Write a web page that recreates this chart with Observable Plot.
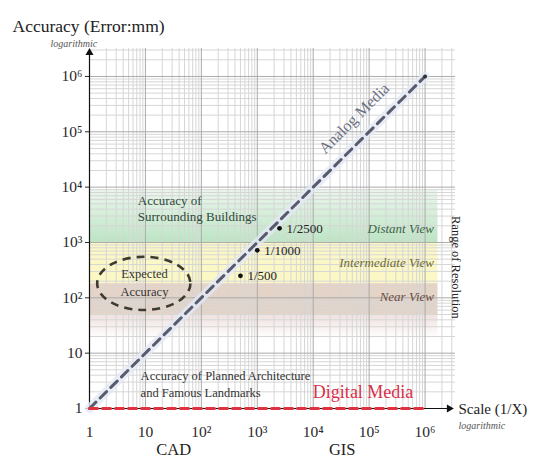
<!DOCTYPE html>
<html><head><meta charset="utf-8">
<script src="https://cdn.jsdelivr.net/npm/d3@7"></script>
<script src="https://cdn.jsdelivr.net/npm/@observablehq/plot@0.6"></script>
<style>body{margin:0;background:#fff}</style>
</head><body><div id="chart"></div>
<script>
// ---- data ----
const tickValues = [1, 10, 100, 1e3, 1e4, 1e5, 1e6];
const tickLabels = ["1", "10", "10²", "10³", "10⁴", "10⁵", "10⁶"];
const analogScale = [1, 1e6];
const analogAccuracy = [1, 1e6];
const digitalScale = [1, 1e6];
const digitalAccuracy = [1, 1];
const pointScale = [500, 1000, 2500];
const pointAccuracy = [250, 720, 1800];
const pointLabels = ["1/500", "1/1000", "1/2500"];
const bandNames = ["Distant View", "Intermediate View", "Near View"];
const bandLow = [1000, 180, 50];
const bandHigh = [8700, 1000, 180];
const bandFill = ["url(#gGreen)", "#fbf8c6", "#e4d3c7"];
const bandText = ["#3f6248", "#6d6a3a", "#6a4d44"];
const bandLabelY = [1800, 437, 106];
const bandEnd = 1.7e6;
const fadeLow = 18;
const ellipseX = [1.4, 65];
const ellipseY = [59, 540];
const xMax = 3.5e6, yMax = 3.2e6, arrowEnd = 2.7e6;

const bands = bandNames.map((name, i) => ({name, lo: bandLow[i], hi: bandHigh[i], fill: bandFill[i], color: bandText[i], ly: bandLabelY[i]}));
const points = pointScale.map((x, i) => ({x, y: pointAccuracy[i], label: pointLabels[i]}));
const gridTicksX = d3.scaleLog().domain([1, xMax]).ticks();
const gridTicksY = d3.scaleLog().domain([1, yMax]).ticks();
const minorX = gridTicksX.filter(v => !tickValues.includes(v));
const minorY = gridTicksY.filter(v => !tickValues.includes(v));

const serif = "'Liberation Serif', 'DejaVu Serif', serif";

function defs() {
  const d = d3.create("svg:defs");
  const g = d.append("linearGradient").attr("id", "gGreen").attr("x1", 0).attr("x2", 0).attr("y1", 0).attr("y2", 1);
  g.append("stop").attr("offset", "0%").attr("stop-color", "#eaf6ec");
  g.append("stop").attr("offset", "100%").attr("stop-color", "#bde4c4");
  const p = d.append("linearGradient").attr("id", "gPink").attr("x1", 0).attr("x2", 0).attr("y1", 0).attr("y2", 1);
  p.append("stop").attr("offset", "0%").attr("stop-color", "#efe1df");
  p.append("stop").attr("offset", "100%").attr("stop-color", "#ffffff");
  return d.node();
}

function ellipse(index, scales) {
  const x0 = scales.x(ellipseX[0]), x1 = scales.x(ellipseX[1]);
  const y0 = scales.y(ellipseY[0]), y1 = scales.y(ellipseY[1]);
  return d3.create("svg:ellipse")
    .attr("cx", (x0 + x1) / 2).attr("cy", (y0 + y1) / 2)
    .attr("rx", Math.abs(x1 - x0) / 2).attr("ry", Math.abs(y1 - y0) / 2)
    .attr("fill", "none").attr("stroke", "#3d3a30").attr("stroke-width", 2.6)
    .attr("stroke-dasharray", "8,6").node();
}

const chart = Plot.plot({
  width: 543, height: 461,
  marginLeft: 89, marginRight: 88, marginTop: 48, marginBottom: 53,
  style: {fontFamily: serif, fontSize: "15px", color: "#2a2a2a", background: "#fff", overflow: "visible"},
  x: {type: "log", domain: [1, xMax]},
  y: {type: "log", domain: [1, yMax]},
  marks: [
    defs,
    Plot.rect(bands, {x1: 1, x2: bandEnd, y1: "lo", y2: "hi", fill: "fill"}),
    Plot.rect([0], {x1: 1, x2: bandEnd, y1: fadeLow, y2: bandLow[2], fill: "url(#gPink)"}),
    Plot.ruleX(minorX, {y1: 1, y2: yMax, stroke: "#d6d6d6", strokeWidth: 1}),
    Plot.ruleY(minorY, {x1: 1, x2: xMax, stroke: "#d6d6d6", strokeWidth: 1}),
    Plot.ruleX(tickValues.slice(1), {y1: 1, y2: yMax, stroke: "#ababab", strokeWidth: 1}),
    Plot.ruleY(tickValues.slice(1), {x1: 1, x2: xMax, stroke: "#ababab", strokeWidth: 1}),
    Plot.axisY(tickValues, {tickFormat: d => tickLabels[tickValues.indexOf(d)], tickSize: 4, tickPadding: 3, label: null, fontSize: 15.5}),
    Plot.axisX(tickValues, {tickFormat: d => tickLabels[tickValues.indexOf(d)], tickSize: 0, tickPadding: 17, label: null, fontSize: 15.5}),
    // axes lines with arrows
    Plot.ruleX([1], {y1: 1, y2: arrowEnd, stroke: "#111", strokeWidth: 1.2}),
    Plot.ruleY([1], {x1: 1, x2: arrowEnd, stroke: "#111", strokeWidth: 1.2}),
    Plot.dot([0], {x: 1, y: arrowEnd, symbol: "triangle", r: 3, fill: "#111", stroke: null}),
    Plot.dot([0], {x: arrowEnd, y: 1, symbol: "triangle", r: 3, fill: "#111", stroke: null, rotate: 90}),
    // analog media line
    Plot.line(analogScale, {x: d => d, y: (d, i) => analogAccuracy[i], stroke: "#e3e9f6", strokeWidth: 9, strokeOpacity: 0.8}),
    Plot.line(analogScale, {x: d => d, y: (d, i) => analogAccuracy[i], stroke: "#575b6b", strokeWidth: 3, strokeDasharray: "9,6"}),
    Plot.dot([0], {x: analogScale[1], y: analogAccuracy[1], r: 2, fill: "#333", stroke: null}),
    // digital media line
    Plot.line(digitalScale, {x: d => d, y: (d, i) => digitalAccuracy[i], stroke: "#e0323f", strokeWidth: 3, strokeDasharray: "8,5"}),
    // ellipse
    ellipse,
    // points
    Plot.dot(points, {x: "x", y: "y", r: 2.4, fill: "#111", stroke: null}),
    Plot.text(points, {x: "x", y: "y", text: "label", dx: 7, textAnchor: "start", fontSize: 13, fill: "#222"}),
    // band labels
    Plot.text(bands, {x: bandEnd, y: "ly", text: "name", dx: -4, textAnchor: "end", fontStyle: "italic", fontSize: 13, fill: "color"}),
    // annotations
    Plot.text(["Accuracy of", "Surrounding Buildings"], {x: 7.3, y: [5750, 2850], text: d => d, textAnchor: "start", fontSize: 13, fill: "#2f4a38"}),
    Plot.text(["Expected", "Accuracy"], {x: 9.6, y: [265, 130], text: d => d, fontSize: 12.5, fill: "#333"}),
    Plot.text(["Accuracy of Planned Architecture", "and Famous Landmarks"], {x: 8.2, y: [3.8, 1.87], text: d => d, textAnchor: "start", fontSize: 12.5, fill: "#333"}),
    Plot.text(["Digital Media"], {x: 7.8e4, y: 1.95, text: d => d, fontSize: 18, fill: "#d9304a"}),
    Plot.text(["Analog Media"], {x: 5.4e4, y: 1.75e5, text: d => d, rotate: -45, fontSize: 16, fill: "#6a6f80"}),
    Plot.text(["Range of Resolution"], {x: xMax, y: 355, text: d => d, rotate: 90, fontSize: 12.5, fill: "#222"}),
    Plot.text(["CAD"], {x: 32, y: 1, text: d => d, dy: 41, fontSize: 16.5, fill: "#222"}),
    Plot.text(["GIS"], {x: 3.3e4, y: 1, text: d => d, dy: 41, fontSize: 16.5, fill: "#222"}),
    Plot.text(["Scale (1/X)"], {x: xMax, y: 1, text: d => d, dx: 3, dy: 1, textAnchor: "start", fontSize: 15, fill: "#222"}),
    Plot.text(["logarithmic"], {x: xMax, y: 1, text: d => d, dx: 3, dy: 17, textAnchor: "start", fontSize: 10, fontStyle: "italic", fill: "#555"}),
    Plot.text(["Accuracy (Error:mm)"], {frameAnchor: "top-left", text: d => d, dx: -77, dy: -29, textAnchor: "start", fontSize: 17.5, fill: "#222"}),
    Plot.text(["logarithmic"], {frameAnchor: "top-left", text: d => d, dx: -39, dy: -9, textAnchor: "start", fontSize: 10, fontStyle: "italic", fill: "#555"})
  ]
});
document.getElementById("chart").appendChild(chart);
</script>
</body></html>
